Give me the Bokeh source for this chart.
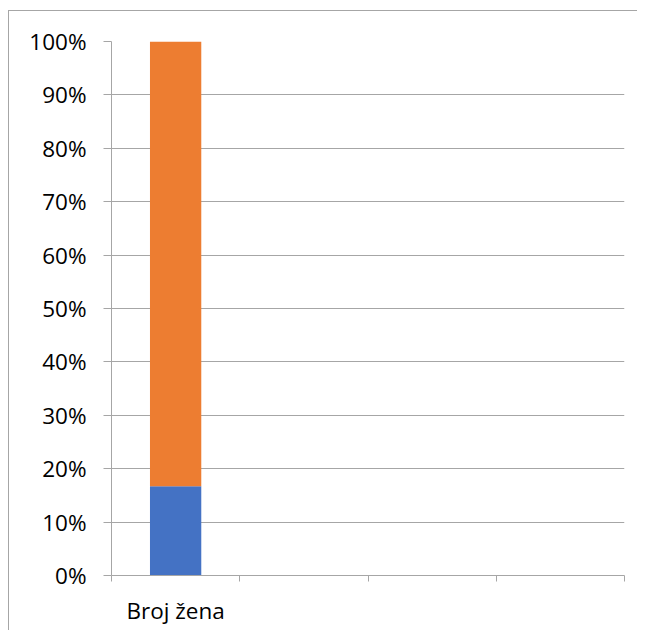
from bokeh.plotting import figure
from bokeh.models import Range1d, FixedTicker, ColumnDataSource
from bokeh.embed import file_html
from bokeh.resources import INLINE

# ---- data ----
categories = ["Broj žena"]
blue_share = [16.7]      # %
orange_share = [83.3]    # %
n_slots = 4              # category slots on the x axis (only the first is used)
y_ticks = [0, 10, 20, 30, 40, 50, 60, 70, 80, 90, 100]

BLUE = "#4472C4"
ORANGE = "#ED7D31"
GRID = "#a6a6a6"
FONT = "Open Sans"
FS = "22.5px"

x_pos = [i + 0.5 for i in range(len(categories))]
src = ColumnDataSource(dict(x=x_pos, blue=blue_share, orange=orange_share))

p = figure(width=629, height=620, output_backend="svg", toolbar_location=None,
           x_range=Range1d(0, n_slots), y_range=Range1d(0, 100),
           min_border_left=102, min_border_right=14, min_border_top=30, min_border_bottom=56)
p.styles = {"border-top": f"1px solid {GRID}", "border-left": f"1px solid {GRID}",
            "margin-top": "10px", "margin-left": "8px"}

p.vbar_stack(["blue", "orange"], x="x", width=0.4, source=src,
             color=[BLUE, ORANGE], line_color=None)

p.outline_line_color = None
p.xgrid.grid_line_color = None
p.ygrid.grid_line_color = GRID
p.ygrid.grid_line_width = 1
p.ygrid.ticker = FixedTicker(ticks=y_ticks)

# y axis
ya = p.yaxis[0]
ya.ticker = FixedTicker(ticks=y_ticks, minor_ticks=[])
ya.major_label_overrides = {t: f"{t}%" for t in y_ticks}
ya.axis_line_color = GRID
ya.major_tick_line_color = GRID
ya.major_tick_out = 8
ya.major_tick_in = 0
ya.minor_tick_line_color = None
ya.major_label_standoff = 17
ya.major_label_text_font = FONT
ya.major_label_text_font_size = FS
ya.major_label_text_color = "#000000"

# x axis
xa = p.xaxis[0]
xa.ticker = FixedTicker(ticks=x_pos, minor_ticks=list(range(n_slots + 1)))
xa.major_label_overrides = {x: c for x, c in zip(x_pos, categories)}
xa.axis_line_color = GRID
xa.major_tick_line_color = None
xa.major_tick_out = 0
xa.major_tick_in = 0
xa.minor_tick_line_color = GRID
xa.minor_tick_out = 6
xa.minor_tick_in = 0
xa.major_label_standoff = 13
xa.major_label_text_font = FONT
xa.major_label_text_font_size = FS
xa.major_label_text_color = "#000000"

open("out.html", "w").write(file_html(p, INLINE))
